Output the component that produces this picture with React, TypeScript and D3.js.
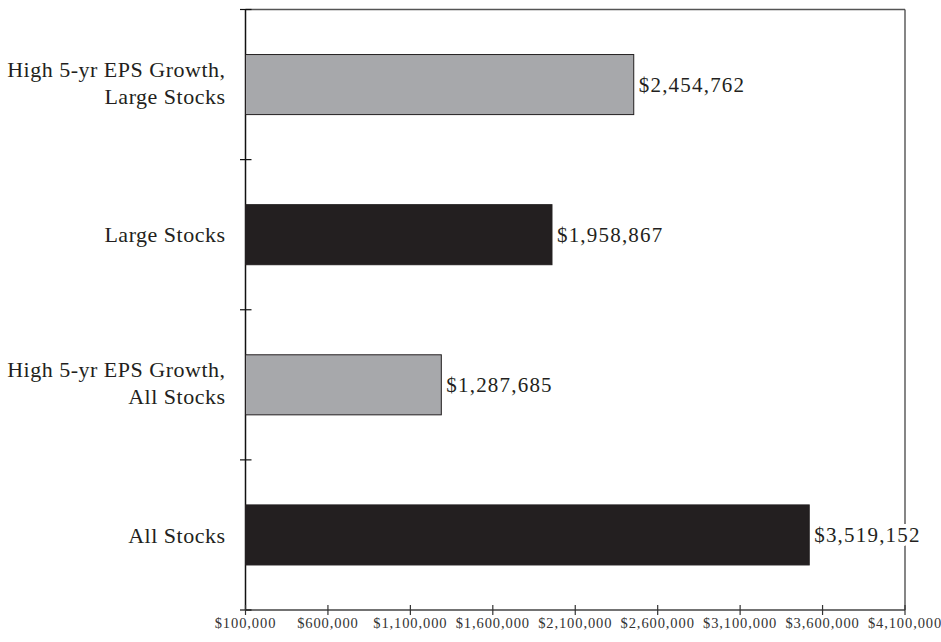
import React from "react";
import * as d3 from "d3";

const categories: string[][] = [
  ["High 5-yr EPS Growth,", "Large Stocks"],
  ["Large Stocks"],
  ["High 5-yr EPS Growth,", "All Stocks"],
  ["All Stocks"],
];
const values: number[] = [2454762, 1958867, 1287685, 3519152];
const barColors: string[] = ["#a7a8ab", "#231f20", "#a7a8ab", "#231f20"];
const xTicks: number[] = [100000, 600000, 1100000, 1600000, 2100000, 2600000, 3100000, 3600000, 4100000];

const W = 941;
const H = 642;
const left = 245.5;
const right = 905;
const top = 9.5;
const bottom = 610;
const FONT = "'Liberation Serif', 'Times New Roman', serif";

export default function App() {
  const keys = categories.map((c) => c.join(" "));
  const x = d3.scaleLinear().domain([100000, 4100000]).range([left, right]);
  const y = d3.scaleBand<string>().domain(keys).range([top, bottom]).paddingInner(0.6).paddingOuter(0.3);
  const step = y.step();
  const gap = step - y.bandwidth();
  const money = (v: number) => "$" + d3.format(",")(v);
  const yTicks = [top, ...keys.slice(1).map((k) => (y(k) as number) - gap / 2), bottom];

  return (
    <svg width={W} height={H} style={{ position: "absolute", left: 0, top: 0, background: "#fff" }}>
      <line x1={left} x2={right} y1={top} y2={top} stroke="#555" strokeWidth={1.5} />
      <line x1={right} x2={right} y1={top} y2={bottom} stroke="#444" strokeWidth={1.3} />
      <line x1={left} x2={right} y1={bottom} y2={bottom} stroke="#444" strokeWidth={1.5} />
      <line x1={left} x2={left} y1={top} y2={bottom} stroke="#111" strokeWidth={1.5} />
      {yTicks.map((t, i) => (
        <line key={"yt" + i} x1={left - 5.5} x2={left + 6} y1={t} y2={t} stroke="#111" strokeWidth={1.2} />
      ))}
      {xTicks.map((t) => (
        <g key={"xt" + t}>
          <line x1={x(t)} x2={x(t)} y1={bottom - 5} y2={bottom + 5} stroke="#333" strokeWidth={1.2} />
          <text
            x={x(t)}
            y={628}
            textAnchor="middle"
            fontFamily={FONT}
            fontSize={14.5}
            letterSpacing={0.9}
            fill="#333"
          >
            {money(t)}
          </text>
        </g>
      ))}
      {keys.map((k, i) => {
        const by = y(k) as number;
        const cy = by + y.bandwidth() / 2;
        const lines = categories[i];
        return (
          <g key={k}>
            <rect
              x={x(100000)}
              y={by}
              width={x(values[i]) - x(100000)}
              height={y.bandwidth()}
              fill={barColors[i]}
              stroke="#231f20"
              strokeWidth={1}
            />
            <text
              x={x(values[i]) + 5}
              y={cy}
              dy="0.35em"
              fontFamily={FONT}
              fontSize={21}
              letterSpacing={1.2}
              fill="#231f20"
              stroke="#fff"
              strokeWidth={8}
              paintOrder="stroke"
              strokeLinejoin="round"
            >
              {money(values[i])}
            </text>
            {lines.length === 1 ? (
              <text
                x={left - 20}
                y={cy}
                dy="0.35em"
                textAnchor="end"
                fontFamily={FONT}
                fontSize={22}
                letterSpacing={0.5}
                fill="#231f20"
              >
                {lines[0]}
              </text>
            ) : (
              lines.map((ln, j) => (
                <text
                  key={j}
                  x={left - 20}
                  y={cy - 8 + j * 27}
                  textAnchor="end"
                  fontFamily={FONT}
                  fontSize={22}
                  letterSpacing={0.5}
                  fill="#231f20"
                >
                  {ln}
                </text>
              ))
            )}
          </g>
        );
      })}
    </svg>
  );
}
